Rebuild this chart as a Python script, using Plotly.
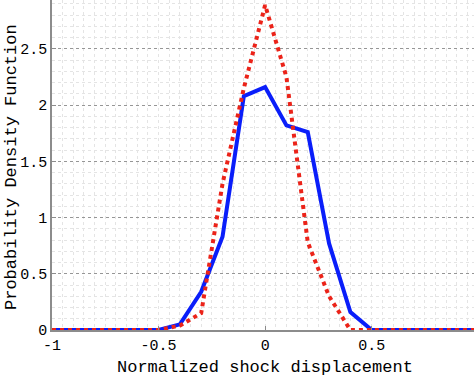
import plotly.graph_objects as go

x_vals = [-1.0, -0.9, -0.8, -0.7, -0.6, -0.5, -0.4, -0.3, -0.2, -0.1, 0.0,
          0.1, 0.2, 0.3, 0.4, 0.5, 0.6, 0.7, 0.8, 0.9, 1.0]
blue_pdf = [0, 0, 0, 0, 0, 0, 0.05, 0.34, 0.83, 2.08, 2.16,
            1.82, 1.76, 0.77, 0.16, 0, 0, 0, 0, 0, 0]
red_pdf = [0, 0, 0, 0, 0, 0, 0.04, 0.15, 1.30, 2.15, 2.89,
           2.25, 0.78, 0.30, 0, 0, 0, 0, 0, 0, 0]

x_ticks = [-1, -0.5, 0, 0.5]
x_tick_text = ["-1", "-0.5", "0", "0.5"]
y_ticks = [0, 0.5, 1, 1.5, 2, 2.5]
y_tick_text = ["0", "0.5", "1", "1.5", "2", "2.5"]

font_mono = "Liberation Mono, Courier New, monospace"

fig = go.Figure()
fig.add_trace(go.Scatter(x=x_vals, y=blue_pdf, mode="lines",
                         line=dict(color="rgb(10,30,250)", width=4),
                         showlegend=False))
fig.add_trace(go.Scatter(x=x_vals, y=red_pdf, mode="lines",
                         line=dict(color="rgb(235,35,25)", width=4, dash="dot"),
                         showlegend=False))

fig.update_layout(
    width=474, height=376,
    margin=dict(l=52, r=0, t=0, b=46),
    paper_bgcolor="white", plot_bgcolor="white",
    font=dict(family=font_mono, size=15, color="black"),
    xaxis=dict(
        range=[-1, 0.98], tickvals=x_ticks, ticktext=x_tick_text,
        showgrid=False, zeroline=False, automargin=False,
        showline=True, linecolor="rgb(140,140,140)", linewidth=1.5,
        ticks="inside", ticklen=4, tickcolor="rgb(140,140,140)",
        tickfont=dict(size=15),
        minor=dict(dtick=0.05, showgrid=True, gridcolor="rgb(228,228,228)",
                   griddash="dot", gridwidth=1, ticks=""),
    ),
    yaxis=dict(
        range=[0, 2.935], tickvals=y_ticks, ticktext=y_tick_text,
        showgrid=True, gridcolor="rgb(150,150,150)", griddash="dot", gridwidth=1,
        zeroline=False, automargin=False,
        showline=True, linecolor="rgb(140,140,140)", linewidth=1.5,
        ticks="inside", ticklen=4, tickcolor="rgb(140,140,140)",
        tickfont=dict(size=15),
        minor=dict(dtick=0.1, showgrid=True, gridcolor="rgb(228,228,228)",
                   griddash="dot", gridwidth=1, ticks=""),
    ),
    annotations=[
        dict(text="Normalized shock displacement", xref="paper", yref="paper",
             x=(265 - 52) / 422, y=-(367 - 330) / 330, xanchor="center", yanchor="middle",
             showarrow=False, font=dict(size=17)),
        dict(text="Probability Density Function", xref="paper", yref="paper",
             x=-(52 - 11) / 422, y=(330 - 167) / 330, xanchor="center", yanchor="middle",
             textangle=-90, showarrow=False, font=dict(size=17)),
    ],
)

fig.write_html("out.html", config={"displayModeBar": False},
               post_script="document.body.style.margin='0';document.body.style.overflow='hidden';")
